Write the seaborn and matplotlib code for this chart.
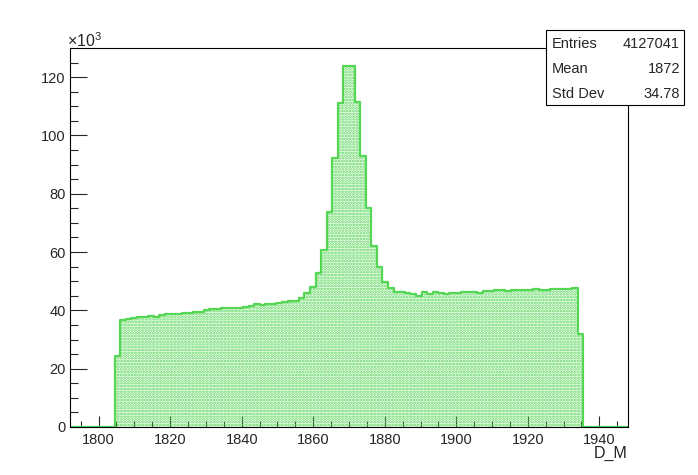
import numpy as np
import pandas as pd
import matplotlib
matplotlib.use("Agg")
import matplotlib.pyplot as plt
from matplotlib.patches import Rectangle
from matplotlib.ticker import MultipleLocator
import seaborn as sns

# --- histogram D_M: 100 bins from 1792 to 1948, counts in units of 10^3 ---
x_min, x_max, n_bins = 1792, 1948, 100
counts_k = [
    0, 0, 0, 0, 0, 0, 0, 0,
    24.3, 36.6, 36.9, 37.4, 37.8, 37.8, 38.1, 37.7, 38.4, 38.7,
    38.7, 38.7, 39.1, 39.1, 39.4, 39.4, 40.0, 40.4, 40.4, 40.8,
    40.8, 40.8, 40.8, 41.3, 41.6, 42.2, 41.8, 42.1, 42.3, 42.5,
    42.8, 43.1, 43.1, 44.1, 46.0, 48.0, 52.8, 60.7, 73.6, 92.4,
    111.2, 123.8, 123.8, 111.6, 92.8, 75.1, 62.2, 54.8, 49.9, 47.6,
    46.3, 46.3, 46.0, 45.6, 45.1, 46.3, 45.6, 46.3, 45.9, 45.6,
    45.8, 45.9, 46.3, 46.3, 46.3, 45.9, 46.6, 46.6, 46.9, 46.9,
    46.5, 46.9, 46.9, 46.9, 46.9, 47.3, 46.9, 46.9, 47.3, 47.3,
    47.3, 47.3, 47.6, 31.9,
    0, 0, 0, 0, 0, 0, 0, 0,
]
stat_names = ["Entries", "Mean", "Std Dev"]
stat_values = ["4127041", "1872", "34.78"]

edges = list(np.linspace(x_min, x_max, n_bins + 1))
centers = [0.5 * (a + b) for a, b in zip(edges[:-1], edges[1:])]
df = pd.DataFrame({"D_M": centers, "n": counts_k})

green = "#55d655"

sns.set_theme(style="ticks")
plt.rcParams["font.family"] = ["Liberation Sans", "DejaVu Sans"]
plt.rcParams["mathtext.fontset"] = "custom"
plt.rcParams["mathtext.rm"] = "Liberation Sans"
plt.rcParams["hatch.linewidth"] = 1.3
plt.rcParams["hatch.color"] = green

fig = plt.figure(figsize=(6.98, 4.75), dpi=100)
ax = fig.add_axes([70 / 698, 48 / 475, 558 / 698, 379 / 475])

# dotted fill
sns.histplot(data=df, x="D_M", weights="n", bins=edges, element="step",
             fill=True, color=green, linewidth=0, ax=ax)
fill = ax.collections[-1]
fill.set_facecolor("none")
fill.set_edgecolor(green)
fill.set_linewidth(0)
fill.set_alpha(1)
fill.set_hatch("......")

# outline
sns.histplot(data=df, x="D_M", weights="n", bins=edges, element="step",
             fill=False, color=green, linewidth=1.6, ax=ax)

ax.set_xlim(x_min, x_max)
ax.set_ylim(0, 1.05 * max(counts_k))
ax.set_xlabel("")
ax.set_ylabel("")

ax.xaxis.set_major_locator(MultipleLocator(20))
ax.xaxis.set_minor_locator(MultipleLocator(5))
ax.yaxis.set_major_locator(MultipleLocator(20))
ax.yaxis.set_minor_locator(MultipleLocator(5))
ax.tick_params(axis="x", which="major", direction="in", length=8, width=0.8,
               labelsize=10.5, pad=4, top=False)
ax.tick_params(axis="x", which="minor", direction="in", length=4, width=0.8, top=False)
ax.tick_params(axis="y", which="major", direction="in", length=12, width=0.8,
               labelsize=10.5, pad=3, right=False)
ax.tick_params(axis="y", which="minor", direction="in", length=6, width=0.8, right=False)
for s in ax.spines.values():
    s.set_linewidth(0.8)
    s.set_color("black")

fig.text(67 / 698, 1 - 41 / 475, r"$\mathregular{\times10^{3}}$", fontsize=11.5,
         ha="left", va="center")
fig.text(628 / 698, 1 - 453 / 475, "D_M", fontsize=11.5, ha="right", va="center")

# stats box
fig.patches.append(Rectangle((546 / 698, 1 - 105 / 475), 138 / 698, 75 / 475,
                             transform=fig.transFigure, facecolor="white",
                             edgecolor="black", linewidth=0.8, zorder=10))
for i, (name, val) in enumerate(zip(stat_names, stat_values)):
    yy = 1 - (44 + 25 * i) / 475
    fig.text(552 / 698, yy, name, fontsize=10.5, ha="left", va="center", zorder=11)
    fig.text(680 / 698, yy, val, fontsize=10.5, ha="right", va="center", zorder=11)

fig.savefig("out.png", dpi=100)
